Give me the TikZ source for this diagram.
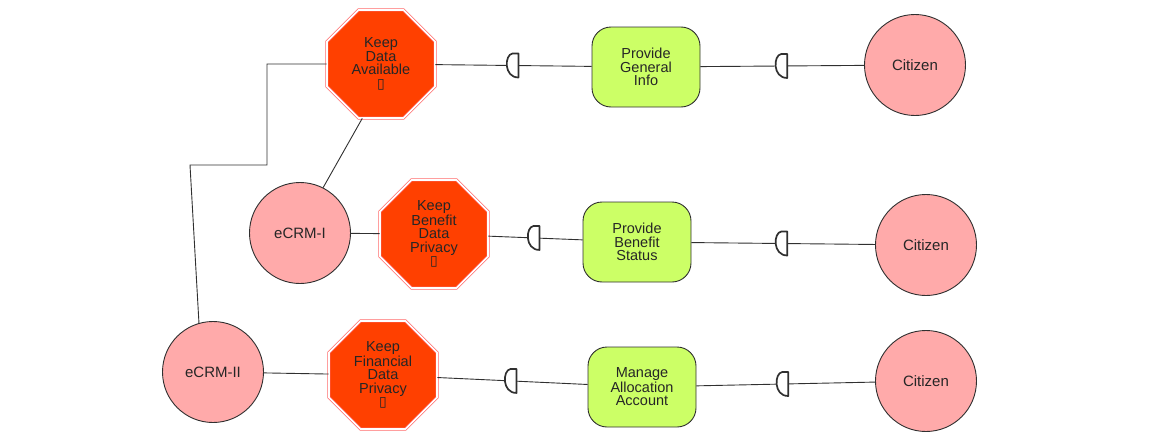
\documentclass[tikz,border=0pt]{standalone}
\usepackage{fontspec}
\setmainfont{Liberation Sans}
\newfontfamily\djv{DejaVu Sans}
\usetikzlibrary{shapes.geometric}
\definecolor{octfill}{HTML}{FF4000}
\definecolor{octline}{HTML}{FF6A6A}
\definecolor{goalfill}{HTML}{CCFF66}
\definecolor{actfill}{HTML}{FFAAAA}
\definecolor{edge}{HTML}{303030}
\tikzset{
  softgoal/.style={regular polygon, regular polygon sides=8, minimum size=117pt, inner sep=0pt,
    fill=octfill, draw=octline, double=white, double distance=1.6pt, line width=0.7pt,
    align=center, font=\fontsize{14.5}{13.5}\selectfont, text=black!85},
  task/.style={rectangle, rounded corners=19pt, minimum width=108pt, minimum height=80pt,
    fill=goalfill, draw=edge, line width=0.9pt, align=center,
    font=\fontsize{14.5}{13.5}\selectfont, text=black!85},
  actor/.style={circle, minimum size=101pt, inner sep=0pt, fill=actfill, draw=edge,
    line width=0.9pt, font=\fontsize{15}{13.5}\selectfont, text=black!85},
  link/.style={draw=edge, line width=0.9pt},
  dep/.pic={\draw[edge, line width=1.7pt, fill=white, line join=round]
    (5,-12) -- (-1,-12) .. controls (-9,-11) and (-10,12) .. (5,12) -- cycle;}
}
\newcommand{\tofubox}{{\djv\fontsize{14}{13.5}\selectfont ▯}}
\begin{document}
\begin{tikzpicture}[x=1pt,y=-1pt]
\useasboundingbox (0,0) rectangle (1171,439);
% actors
\node[actor] (e1) at (300,233) {eCRM-I};
\node[actor] (e2) at (213,372) {eCRM-II};
\node[actor] (c1) at (915,65) {Citizen};
\node[actor] (c2) at (926,245) {Citizen};
\node[actor] (c3) at (926,381) {Citizen};
% softgoals
\node[softgoal] (o1) at (381,64) {Keep\\Data\\Available\\\tofubox};
\node[softgoal] (o2) at (434,234) {Keep\\Benefit\\Data\\Privacy\\\tofubox};
\node[softgoal] (o3) at (383,375) {Keep\\Financial\\Data\\Privacy\\\tofubox};
% tasks
\node[task] (g1) at (646,67) {Provide\\General\\Info};
\node[task] (g2) at (637,242) {Provide\\Benefit\\Status};
\node[task] (g3) at (642,387) {Manage\\Allocation\\Account};
% structural links
\coordinate (b1) at (190,165);
\coordinate (b2) at (267,165);
\draw[link] (e2.106) -- (b1) -- (b2) |- (o1.west);
\draw[link] (e1.63) -- (o1.251);
\draw[link] (e1) -- (o2);
\draw[link] (e2) -- (o3);
% dependency links
\draw[link] (o1) -- coordinate[pos=0.5] (d1) (g1);
\draw[link] (g1) -- coordinate[pos=0.5] (d2) (c1);
\draw[link] (o2) -- coordinate[pos=0.49] (d3) (g2);
\draw[link] (g2) -- coordinate[pos=0.495] (d4) (c2);
\draw[link] (o3) -- coordinate[pos=0.494] (d5) (g3);
\draw[link] (g3) -- coordinate[pos=0.486] (d6) (c3);
\foreach \d in {d1,d2,d3,d4,d5,d6} \pic at (\d) {dep};
\end{tikzpicture}
\end{document}
